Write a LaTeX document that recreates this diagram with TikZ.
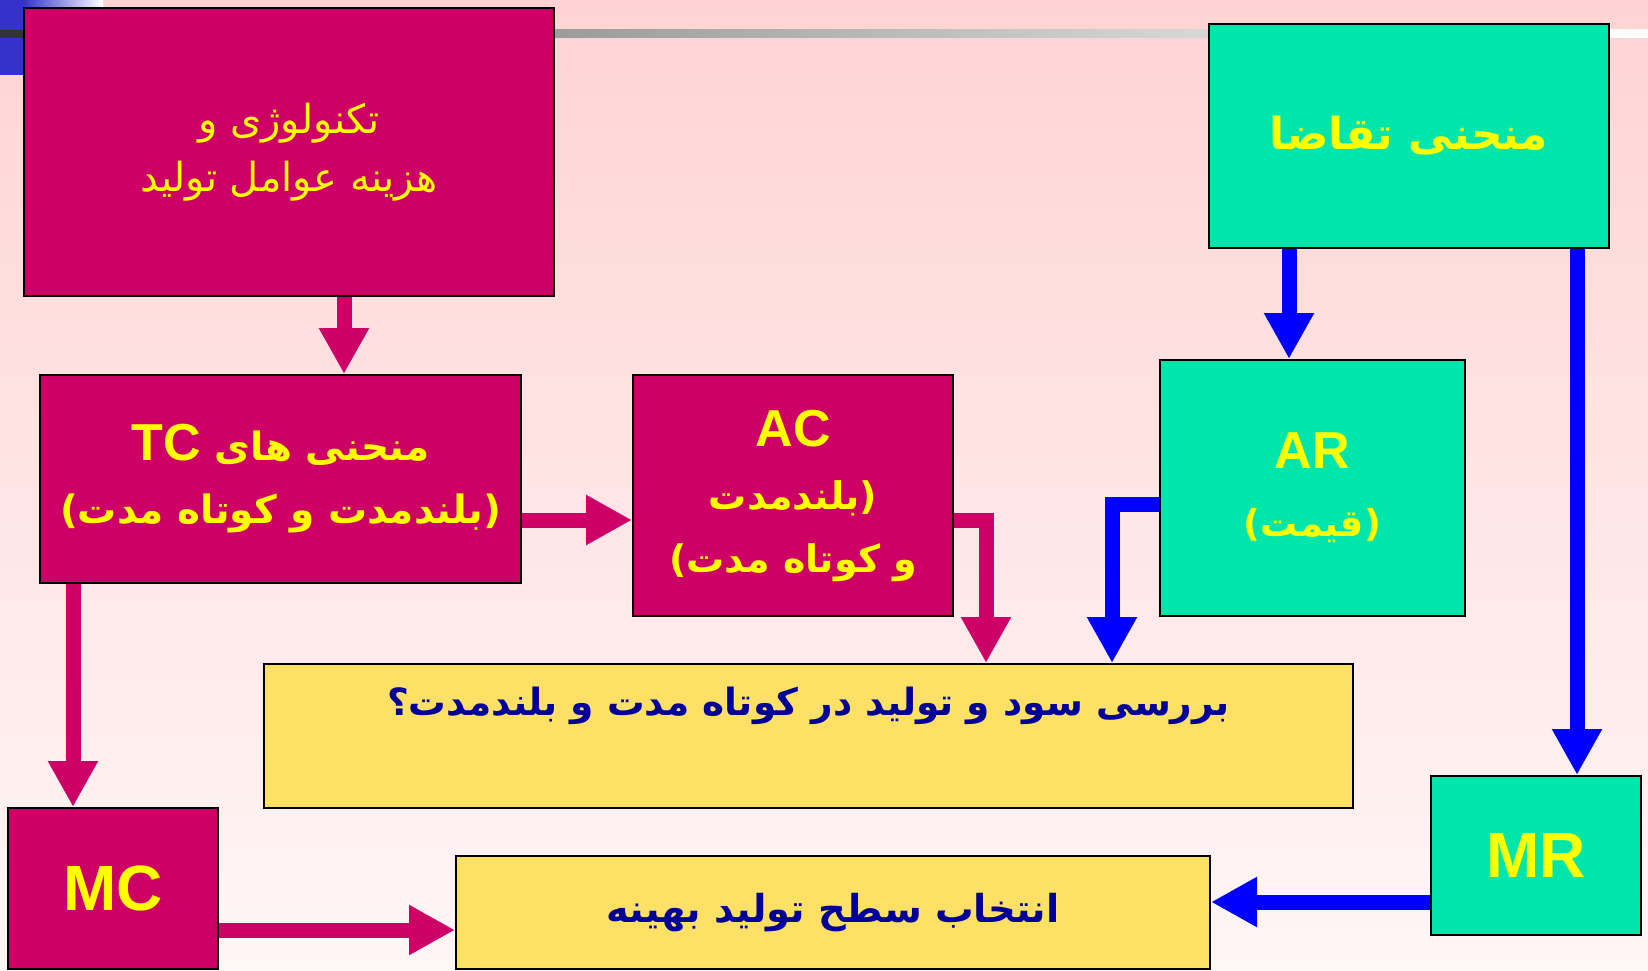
\documentclass[tikz,border=0pt]{standalone}
\usepackage{fontspec}
\setmainfont{Liberation Sans}
\newfontfamily\arabicfont[Script=Arabic]{DejaVu Sans}
\TeXXeTstate=1
\usetikzlibrary{arrows.meta, positioning, calc}
\definecolor{costred}{HTML}{CC0066}
\definecolor{revgreen}{HTML}{00E6AA}
\definecolor{askyellow}{HTML}{FFE066}
\definecolor{textyellow}{HTML}{FFFF00}
\definecolor{textblue}{HTML}{000099}
\definecolor{flowblue}{HTML}{0000FF}
\definecolor{headblue}{HTML}{3333CC}
\definecolor{bgtop}{HTML}{FFD3D3}
\definecolor{bgbottom}{HTML}{FFF6F6}
\newcommand{\fatext}[1]{\beginR#1\endR}
\newcommand{\entext}[1]{{\rmfamily\bfseries\beginL#1\endL}}

\begin{document}
\begin{tikzpicture}[x=1pt, y=-1pt,
  costbox/.style={draw=black, line width=2pt, fill=costred, text=textyellow, inner sep=0pt, align=center},
  revbox/.style={costbox, fill=revgreen},
  askbox/.style={draw=black, line width=2pt, fill=askyellow, text=textblue, inner sep=0pt, align=center},
  costflow/.style={draw=costred, line width=15pt, -{Triangle[length=46pt, width=47pt]}},
  revflow/.style={costflow, draw=flowblue}]
\useasboundingbox (0,0) rectangle (1648,971);
\fill[top color=bgtop, bottom color=bgbottom] (0,0) rectangle (1648,971);
\fill[headblue] (0,0) rectangle (23,75);
\shade[left color=headblue, right color=white] (23,0) rectangle (103,7);
\fill[black!80] (0,30) rectangle (24,38);
\shade[left color=black!58, right color=white] (24,30) rectangle (1648,38);

\node[costbox, minimum width=530pt, minimum height=288pt, font=\arabicfont\fontsize{40}{58}\selectfont] (tech) at (289,152)
  {\fatext{تکنولوژی و}\\ \fatext{هزینه عوامل تولید}};
\node[costbox, minimum width=481pt, minimum height=208pt, font=\arabicfont\bfseries\fontsize{39}{63}\selectfont] (tc) at (280.5,479)
  {\fatext{منحنی های \entext{\fontsize{52}{63}\selectfont TC}}\\ \fatext{(بلندمدت و کوتاه مدت)}};
\node[costbox, minimum width=320pt, minimum height=241pt, font=\arabicfont\bfseries\fontsize{38}{63}\selectfont] (ac) at (793,495.5)
  {\entext{\fontsize{52}{63}\selectfont AC}\\ \fatext{(بلندمدت}\\ \fatext{و کوتاه مدت)}};
\node[revbox, minimum width=400pt, minimum height=224pt, font=\arabicfont\bfseries\fontsize{44}{63}\selectfont] (demand) at (1409,136)
  {\fatext{منحنی تقاضا}};
\node[revbox, minimum width=305pt, minimum height=256pt, font=\arabicfont\bfseries\fontsize{37}{68}\selectfont] (ar) at (1312.5,488)
  {\entext{\fontsize{52}{68}\selectfont AR}\\ \fatext{(قیمت)}};
\node[askbox, minimum width=1089pt, minimum height=144pt, text depth=70pt, font=\arabicfont\bfseries\fontsize{37.5}{58}\selectfont] (profit) at (808.5,736)
  {\fatext{بررسی سود و تولید در کوتاه مدت و بلندمدت؟}};
\node[revbox, minimum width=210pt, minimum height=159pt, font=\bfseries\fontsize{64}{70}\selectfont] (mr) at (1536,855.5) {MR};
\node[costbox, minimum width=210pt, minimum height=161pt, font=\bfseries\fontsize{64}{70}\selectfont] (mc) at (113,888.5) {MC};
\node[askbox, minimum width=754pt, minimum height=113pt, font=\arabicfont\bfseries\fontsize{38.5}{58}\selectfont] (opt) at (833,912.5)
  {\fatext{انتخاب سطح تولید بهینه}};

\draw[costflow] ([xshift=55pt]tech.south) -- ([xshift=55pt]tech.south |- tc.north);
\draw[costflow] ([yshift=-41pt]tc.east) -- ([yshift=-41pt]tc.east -| ac.west);
\draw[costflow] ([yshift=-24.5pt]ac.east) -| ([xshift=177.5pt]profit.north);
\draw[costflow] ([xshift=-207.5pt]tc.south) -- ([xshift=-207.5pt]tc.south |- mc.north);
\draw[costflow] ([yshift=-41.5pt]mc.east) -- ([yshift=-41.5pt]mc.east -| opt.west);
\draw[revflow] ([xshift=-120pt]demand.south) -- ([xshift=-120pt]demand.south |- ar.north);
\draw[revflow] ([xshift=168pt]demand.south) -- ([xshift=168pt]demand.south |- mr.north);
\draw[revflow] ([yshift=-16pt]ar.west) -| ([xshift=303.5pt]profit.north);
\draw[revflow] ([yshift=-46.5pt]mr.west) -- ([yshift=-46.5pt]mr.west -| opt.east);
\end{tikzpicture}
\end{document}
